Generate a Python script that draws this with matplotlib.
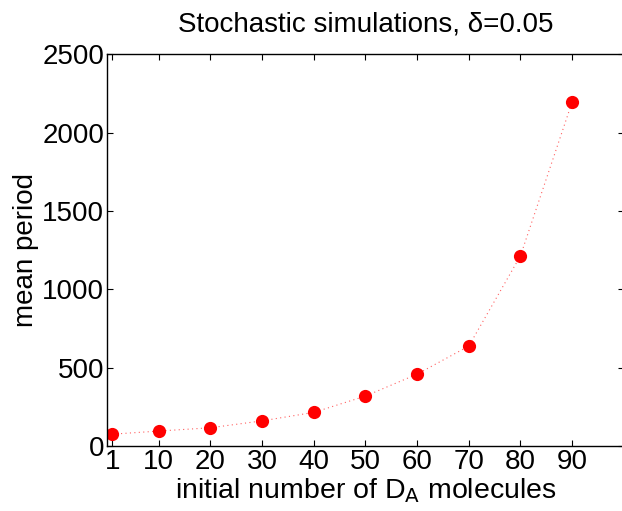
import matplotlib
matplotlib.use("Agg")
import matplotlib.pyplot as plt

# valores
num_inicial = [1, 10, 20, 30, 40, 50, 60, 70, 80, 90]
periodo_medio = [76, 96, 117, 161, 215, 319, 459, 638, 1214, 2196]
ticks_x = [1, 10, 20, 30, 40, 50, 60, 70, 80, 90]
ticks_y = [0, 500, 1000, 1500, 2000, 2500]

plt.rcParams["font.family"] = ["Liberation Sans", "DejaVu Sans"]

fig = plt.figure(figsize=(6.22, 5.11), dpi=100)
ax = fig.add_axes([0.172, 0.127, 0.831, 0.767])

ax.plot(num_inicial, periodo_medio, color="#ff6060", linestyle=(0, (1, 3)), linewidth=0.8)
ax.plot(num_inicial, periodo_medio, "o", color="red", markersize=9.5, markeredgewidth=0)

ax.set_xlim(0, 100)
ax.set_ylim(0, 2500)
ax.set_xticks(ticks_x)
ax.set_yticks(ticks_y)
ax.tick_params(direction="in", length=4, width=0.8, labelsize=20, top=True, right=True, pad=2)
for s in ax.spines.values():
    s.set_linewidth(1.0)

ax.set_title("Stochastic simulations, \u03b4=0.05", fontsize=20, pad=16)
ax.set_xlabel("initial number of D$_\\mathrm{A}$ molecules", fontsize=20.5, labelpad=1)
ax.set_ylabel("mean period", fontsize=20, labelpad=2)

fig.savefig("out.png", dpi=100)
